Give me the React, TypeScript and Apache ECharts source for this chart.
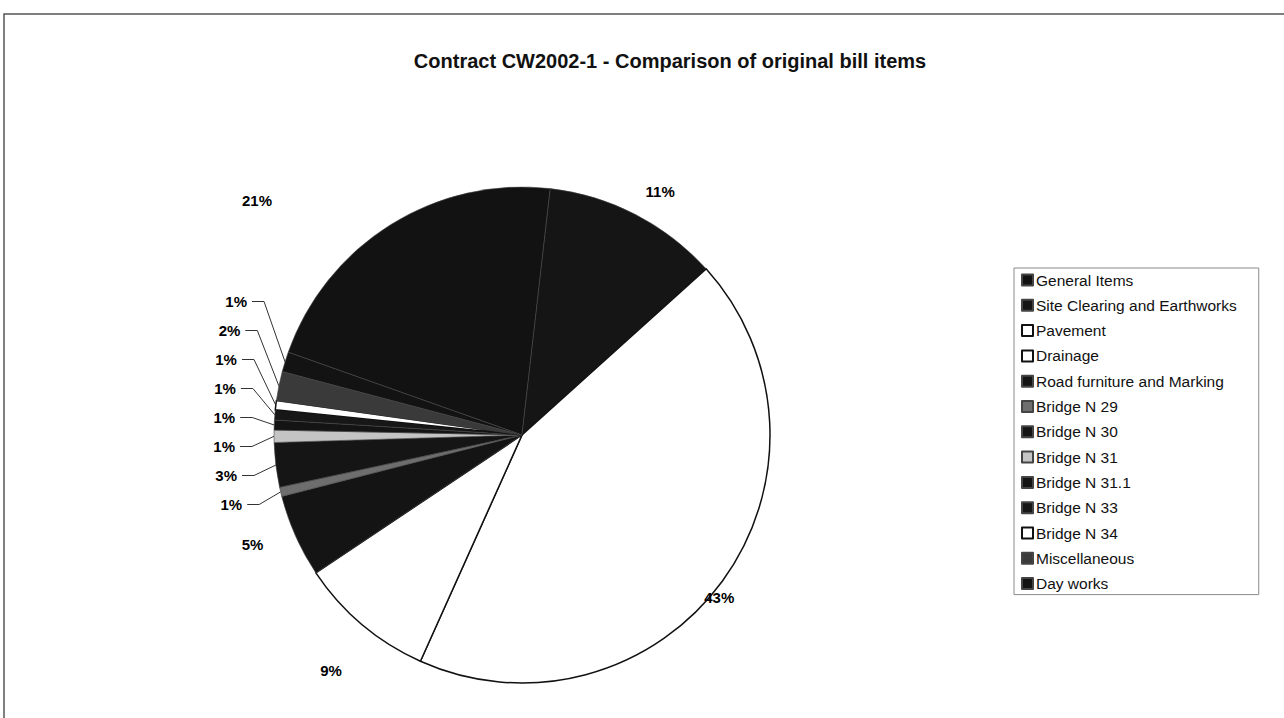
import React, { useEffect, useRef } from "react";
import * as echarts from "echarts";

const titleText = "Contract CW2002-1 - Comparison of original bill items";

const categories = [
  "General Items",
  "Site Clearing and Earthworks",
  "Pavement",
  "Drainage",
  "Road furniture and Marking",
  "Bridge N 29",
  "Bridge N 30",
  "Bridge N 31",
  "Bridge N 31.1",
  "Bridge N 33",
  "Bridge N 34",
  "Miscellaneous",
  "Day works",
];

const shares = [21.4, 11.5, 43.4, 8.9, 5.4, 0.6, 2.9, 0.8, 0.65, 0.65, 0.6, 1.9, 1.3];

const fills = [
  "#121212",
  "#151515",
  "#ffffff",
  "#ffffff",
  "#141414",
  "#6e6e6e",
  "#151515",
  "#c4c4c4",
  "#141414",
  "#171717",
  "#ffffff",
  "#3a3a3a",
  "#131313",
];

// slices whose labels use leader lines
const leader = [false, false, false, false, false, true, true, true, true, true, true, true, true];

// nudges of the big-slice labels (Excel places them differently from ECharts)
const labelNudge: Record<number, [number, number]> = {
  0: [-98, -5],
  1: [-9, -3],
  2: [-45, 38],
  3: [-109, 138],
  4: [-3, 0],
};

export default function App() {
  const ref = useRef<HTMLDivElement>(null);

  useEffect(() => {
    if (!ref.current) return;
    const chart = echarts.init(ref.current, undefined, { renderer: "svg" });
    const total = shares.reduce((a, b) => a + b, 0);
    const data = categories.map((name, i) => {
      const white = fills[i] === "#ffffff";
      let label: any = { lineHeight: 18 };
      if (leader[i]) label = { lineHeight: 27, alignTo: "labelLine" };
      if (i === 3) label = { lineHeight: 18, position: "inside" };
      if (i === 4) label = { lineHeight: 48 };
      return {
        name,
        value: shares[i],
        itemStyle: {
          color: fills[i],
          borderColor: white ? "#111" : "#444",
          borderWidth: white ? 1.5 : 0.6,
        },
        label,
        labelLine: leader[i]
          ? { show: true, length: 22, length2: 12 }
          : { show: false, length: 22, length2: 4 },
      };
    });

    chart.setOption({
      animation: false,
      backgroundColor: "#ffffff",
      title: {
        text: titleText,
        left: 665,
        top: 46,
        textAlign: "center",
        textStyle: {
          fontFamily: "Liberation Sans, Arial, sans-serif",
          fontSize: 20,
          fontWeight: "bold",
          color: "#111",
        },
      },
      legend: {
        orient: "vertical",
        left: 1014,
        top: 268,
        icon: "rect",
        itemWidth: 11,
        itemHeight: 11,
        itemGap: 9.3,
        padding: [4, 22, 3, 7],
        borderColor: "#8a8a8a",
        borderWidth: 1,
        selectedMode: false,
        data: categories,
        textStyle: {
          fontFamily: "Liberation Sans, Arial, sans-serif",
          fontSize: 15.5,
          color: "#111",
          padding: [0, 0, 0, -2],
        },
      },
      graphic: [
        {
          type: "rect",
          shape: { x: 4, y: 14, width: 1300, height: 720 },
          style: { fill: "none", stroke: "#555", lineWidth: 1.5 },
          silent: true,
        },
      ],
      series: [
        {
          type: "pie",
          left: 0,
          top: 0,
          width: 1284,
          height: 569,
          center: [522, 435],
          radius: 248,
          startAngle: 160.5,
          clockwise: true,
          avoidLabelOverlap: true,
          data,
          label: {
            show: true,
            position: "outside",
            fontFamily: "Liberation Sans, Arial, sans-serif",
            fontSize: 15,
            fontWeight: "bold",
            color: "#000",
            formatter: (p: any) => Math.round((p.value / total) * 100) + "%",
          },
          labelLine: {
            lineStyle: { color: "#333", width: 1 },
          },
          labelLayout: (params: any) => {
            const n = labelNudge[params.dataIndex];
            return n ? { dx: n[0], dy: n[1] } : {};
          },
          emphasis: { disabled: true },
        },
      ],
    });
    return () => chart.dispose();
  }, []);

  return (
    <div
      ref={ref}
      style={{ position: "absolute", left: 0, top: 0, width: 1284, height: 718 }}
    />
  );
}
